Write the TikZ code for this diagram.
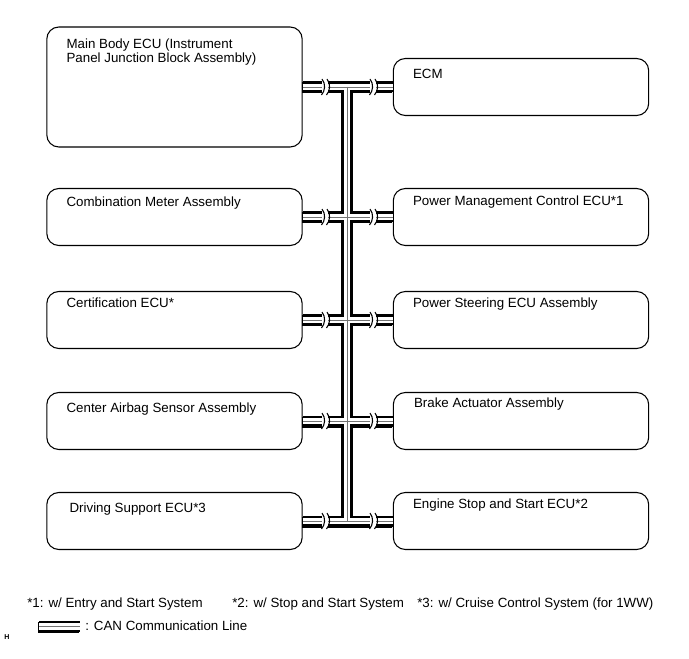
\documentclass[tikz,border=0pt]{standalone}
\usepackage{fontspec}
\setmainfont{Liberation Sans}
\begin{document}
\begin{tikzpicture}[x=0.75pt, y=-0.75pt, line join=round,
	font=\fontsize{10}{10.5}\selectfont,
	ecubox/.style={draw, line width=0.8pt, rounded corners=9pt, inner sep=0pt, minimum width=191.5pt, minimum height=42.75pt},
	ecutext/.style={anchor=base west, inner sep=0pt},
	canshadow/.style={line width=8.25pt, transform canvas={shift={(-0.75pt,-0.75pt)}}},
	canouter/.style={line width=8.25pt},
	caninner/.style={white, line width=4.9pt},
	cancore/.style={black!55, line width=0.6pt},
	canbreak/.style={line width=0.8pt}]
	\def\busx{347} \def\ltop{87} \def\lbot{521} % Bus
	\def\xl{174.5} \def\xr{521} % Box centres
	\useasboundingbox (0,0) rectangle (689,659);
	% ECUs
	\node[ecubox, minimum height=90pt] (mb) at (\xl,87) {};
	\node[ecubox] (ecm) at (\xr,87) {};
	\node[ecubox] (cmb) at (\xl,217) {};
	\node[ecubox] (pmc) at (\xr,217) {};
	\node[ecubox] (cer) at (\xl,320) {};
	\node[ecubox] (ps) at (\xr,320) {};
	\node[ecubox] (cab) at (\xl,421) {};
	\node[ecubox] (ba) at (\xr,421) {};
	\node[ecubox] (ds) at (\xl,521) {};
	\node[ecubox] (es) at (\xr,521) {};
	\node[ecutext] at ([shift={(20,22)}]mb.north west)
		{\begin{tabular}[t]{@{}l@{}}Main Body ECU (Instrument\\Panel Junction Block Assembly)\end{tabular}};
	\node[ecutext] at ([shift={(20,20.5)}]ecm.north west) {ECM};
	\node[ecutext] at ([shift={(20,18.5)}]cmb.north west) {Combination Meter Assembly};
	\node[ecutext] at ([shift={(20,17.5)}]pmc.north west) {Power Management Control ECU*1};
	\node[ecutext] at ([shift={(20,16.5)}]cer.north west) {Certification ECU*};
	\node[ecutext] at ([shift={(20,16.5)}]ps.north west) {Power Steering ECU Assembly};
	\node[ecutext] at ([shift={(20,20.5)}]cab.north west) {Center Airbag Sensor Assembly};
	\node[ecutext] at ([shift={(21,15.5)}]ba.north west) {Brake Actuator Assembly};
	\node[ecutext] at ([shift={(23,20.5)}]ds.north west) {Driving Support ECU*3};
	\node[ecutext] at ([shift={(20,16.5)}]es.north west) {Engine Stop and Start ECU*2};
	% CAN bus
	\coordinate (bt) at (\busx,\ltop);
	\coordinate (bb) at (\busx,\lbot);
	\def\canbus{(mb.east)--(ecm.west) (cmb.east)--(pmc.west) (cer.east)--(ps.west)
		(cab.east)--(ba.west) (ds.east)--(es.west) (bt)--(bb)}
	\foreach \lay in {canshadow,canouter,caninner,cancore}
		\draw[\lay] \canbus;
	\foreach \r in {87,217,320,421,521}
		\foreach \bx in {325,373} {
			\fill[white] (\bx-3,\r-8) rectangle (\bx+3,\r+8);
			\draw[canbreak] (\bx-3,\r-8) .. controls (\bx+1,\r-3) and (\bx,\r+4) .. (\bx-3.5,\r+8);
			\draw[canbreak] (\bx+2,\r-8) .. controls (\bx+6,\r-3) and (\bx+5,\r+4) .. (\bx+1.5,\r+8);
		}
	% Notes
	\node[ecutext] (n1) at (27,607) {*1: w/ Entry and Start System};
	\node[ecutext] (n2) at (232,607) {*2: w/ Stop and Start System};
	\node[ecutext] (n3) at (417,607) {*3: w/ Cruise Control System (for 1WW)};
	% Legend
	\coordinate (lga) at (39,626.5);
	\coordinate (lgb) at (80,626.5);
	\foreach \lay in {canshadow,canouter,caninner,cancore}
		\draw[\lay] (lga)--(lgb);
	\node[ecutext] (lgt) at (85,630) {: CAN Communication Line};
	\node[ecutext, font=\fontsize{5.3}{6}\selectfont\bfseries] (hh) at (4,639) {H};
\end{tikzpicture}
\end{document}
